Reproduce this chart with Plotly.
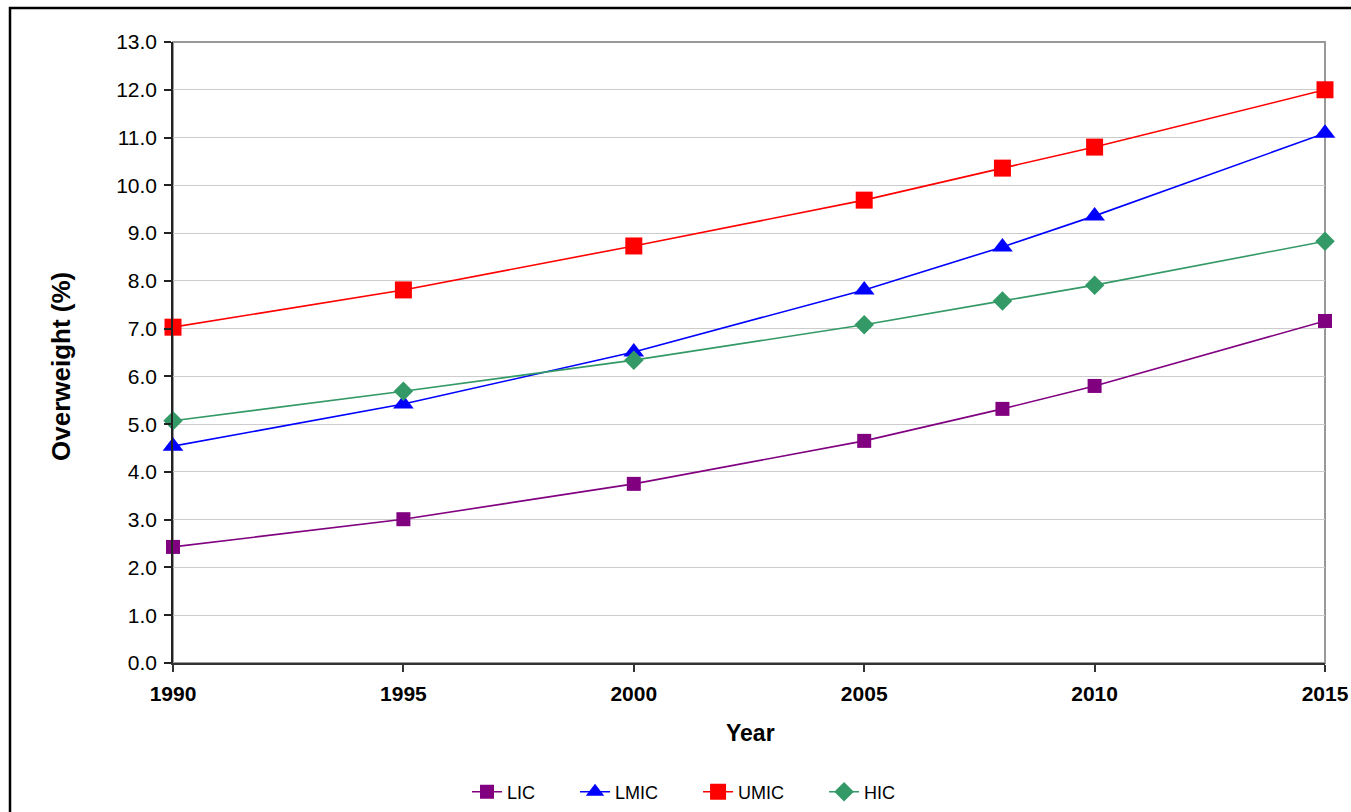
import plotly.graph_objects as go

years = [1990, 1995, 2000, 2005, 2008, 2010, 2015]
lic = [2.43, 3.01, 3.75, 4.65, 5.32, 5.80, 7.16]
lmic = [4.54, 5.42, 6.51, 7.81, 8.71, 9.36, 11.09]
umic = [7.03, 7.81, 8.73, 9.69, 10.36, 10.80, 12.00]
hic = [5.07, 5.69, 6.34, 7.08, 7.58, 7.91, 8.83]

series = [
    ("LIC", lic, "#800080", "square", 14),
    ("LMIC", lmic, "#0000FF", "triangle-up", 18),
    ("UMIC", umic, "#FF0000", "square", 17),
    ("HIC", hic, "#339966", "diamond", 15),
]

x_ticks = [1990, 1995, 2000, 2005, 2010, 2015]
y_ticks = [i for i in range(0, 14)]

FONT = "Liberation Sans, Arial, sans-serif"
PAD = "\u00a0" * 7

fig = go.Figure()
for name, vals, color, sym, size in series:
    fig.add_trace(go.Scatter(
        x=years, y=vals, name=name + PAD, mode="lines+markers",
        line=dict(color=color, width=1.6),
        marker=dict(symbol=sym, size=size, color=color),
        cliponaxis=False,
    ))

W, H = 1351, 812
L, T = 173, 42
R = W - 1325
B = H - 663
pw, ph = W - L - R, H - T - B

def px_x(p):
    return (p - L) / pw

def px_y(p):
    return (H - B - p) / ph

fig.update_layout(
    width=W, height=H,
    margin=dict(l=L, r=R, t=T, b=B, autoexpand=False),
    paper_bgcolor="white", plot_bgcolor="white",
    font=dict(family=FONT, size=18, color="black"),
    showlegend=True,
    legend=dict(orientation="h", x=px_x(467), xanchor="left", y=px_y(792), yanchor="middle",
                font=dict(size=18), itemwidth=30, tracegroupgap=0),
    xaxis=dict(
        range=[1990, 2015], tickvals=x_ticks, ticktext=[str(v) for v in x_ticks],
        tickfont=dict(size=21, family=FONT, weight="bold"),
        ticks="outside", ticklen=7, tickcolor="#333333", tickwidth=1.5,
        ticklabelstandoff=4,
        showline=True, linecolor="#333333", linewidth=2,
        showgrid=False, zeroline=False, automargin=False,
    ),
    yaxis=dict(
        range=[0, 13], tickvals=y_ticks, ticktext=[f"{v:.1f}" for v in y_ticks],
        tickfont=dict(size=21),
        ticks="outside", ticklen=7, tickcolor="#222222", tickwidth=1.5,
        ticklabelstandoff=3,
        showline=True, linecolor="#222222", linewidth=1.5,
        showgrid=True, gridcolor="#cccccc", gridwidth=1, zeroline=False,
        automargin=False,
    ),
    annotations=[
        dict(text="<b>Year</b>", xref="paper", yref="paper", x=px_x(750), y=px_y(733),
             xanchor="center", yanchor="middle", showarrow=False, font=dict(size=23)),
        dict(text="<b>Overweight (%)</b>", xref="paper", yref="paper", x=px_x(61), y=px_y(367),
             xanchor="center", yanchor="middle", showarrow=False, textangle=-90,
             font=dict(size=26)),
    ],
    shapes=[
        dict(type="rect", xref="paper", yref="paper", x0=0, x1=1, y0=0, y1=1,
             line=dict(color="#999999", width=2), layer="below"),
        dict(type="rect", xref="paper", yref="paper",
             x0=px_x(10), x1=px_x(1370), y0=px_y(830), y1=px_y(8),
             line=dict(color="black", width=2.5), layer="below"),
    ],
)

fig.write_html(
    "out.html",
    config={"displayModeBar": False},
    post_script="document.body.style.margin='0';document.body.style.overflow='hidden';",
)
